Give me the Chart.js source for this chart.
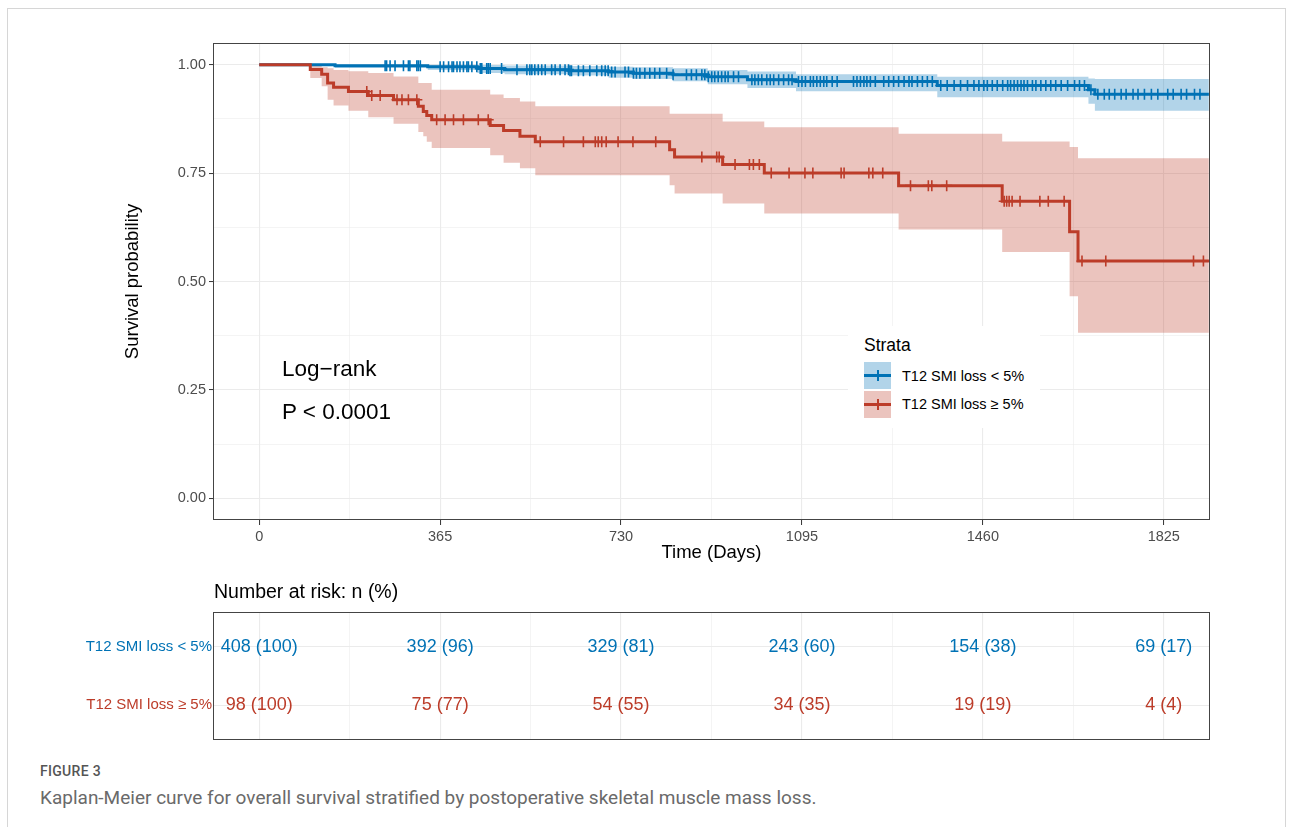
<!DOCTYPE html>
<html>
<head>
<meta charset="utf-8">
<script src="https://cdn.jsdelivr.net/npm/chart.js@4.4.1/dist/chart.umd.min.js"></script>
<style>
  html, body { margin: 0; padding: 0; background: #fff; }
  body { width: 1293px; height: 827px; position: relative; overflow: hidden; font-family: "Liberation Sans", Arial, sans-serif; }
  .frame { position: absolute; left: 7px; top: 8px; width: 1277px; height: 840px; border: 1px solid #d6d6d6; }
  canvas { position: absolute; left: 0; }
  #km { top: 0; }
  #risk { top: 600px; }
  .abs { position: absolute; white-space: nowrap; }
  .legend { position: absolute; left: 848px; top: 326px; width: 192px; height: 102px; background: #fff; }
  .key { position: absolute; left: 16px; width: 27px; height: 27px; }
  .key .ln { position: absolute; left: 0; right: 0; top: 12px; height: 3px; }
  .key .tk { position: absolute; left: 13px; top: 8px; width: 1.6px; height: 11px; }
  .cap { font-family: Roboto, "Noto Sans", sans-serif; }
</style>
</head>
<body>
<div class="frame"></div>
<canvas id="km" width="1293" height="568"></canvas>
<canvas id="risk" width="1293" height="151"></canvas>

<div class="abs" style="left:282px;top:356px;font-size:22.5px;line-height:26px;color:#000">Log−rank</div>
<div class="abs" style="left:282px;top:399px;font-size:22.5px;line-height:26px;color:#000">P &lt; 0.0001</div>

<div class="legend">
  <div class="abs" style="left:16px;top:9px;font-size:17.5px;line-height:20px">Strata</div>
  <div class="key" style="top:36px;background:rgba(0,114,181,0.3)"><div class="ln" style="background:#0072B5"></div><div class="tk" style="background:#0072B5"></div></div>
  <div class="key" style="top:65px;background:rgba(188,60,41,0.3)"><div class="ln" style="background:#BC3C29"></div><div class="tk" style="background:#BC3C29"></div></div>
  <div class="abs" id="lg0" style="left:54px;top:42px;font-size:14.5px;line-height:17px"></div>
  <div class="abs" id="lg1" style="left:54px;top:70px;font-size:14.5px;line-height:17px"></div>
</div>

<div class="abs" style="left:214px;top:580px;font-size:19.5px;line-height:22px;color:#000">Number at risk: n (%)</div>

<div class="abs cap" style="left:40px;top:763px;font-size:14px;line-height:16px;font-weight:500;color:#555;letter-spacing:0.3px">FIGURE 3</div>
<div class="abs cap" style="left:40px;top:787px;font-size:19px;line-height:22px;color:#6a6a6a">Kaplan-Meier curve for overall survival stratified by postoperative skeletal muscle mass loss.</div>

<script>
const groupNames = ["T12 SMI loss < 5%", "T12 SMI loss \u2265 5%"];
const groupColors = ["#0072B5", "#BC3C29"];
const bandColors = ["rgba(0,114,181,0.3)", "rgba(188,60,41,0.3)"];

const xMajor = [0, 365, 730, 1095, 1460, 1825];
const xGrid = [0, 182.5, 365, 547.5, 730, 912.5, 1095, 1277.5, 1460, 1642.5, 1825];
const yMajor = [0, 0.25, 0.5, 0.75, 1];
const yGrid = [0, 0.125, 0.25, 0.375, 0.5, 0.625, 0.75, 0.875, 1];
const endTime = 1916;

// T12 SMI loss < 5%
const lowTimes = [0, 153, 340, 440, 495, 625, 705, 755, 835, 905, 985, 1083, 1368, 1673, 1686];
const lowSurv  = [1, 0.9975, 0.9951, 0.991, 0.9885, 0.986, 0.983, 0.980, 0.977, 0.972, 0.9655, 0.961, 0.952, 0.942, 0.932];
const lowUpper = [1, 1, 1, 0.999, 0.998, 0.997, 0.995, 0.994, 0.992, 0.988, 0.984, 0.978, 0.972, 0.968, 0.967];
const lowLower = [1, 0.9926, 0.988, 0.981, 0.978, 0.975, 0.970, 0.967, 0.962, 0.955, 0.946, 0.939, 0.925, 0.910, 0.894];
const lowCensor = [254, 257, 264, 274, 291, 301, 304, 318, 321, 325, 365, 372, 382, 389, 392, 399, 405,
  412, 419, 422, 429, 439, 446, 449, 459, 462, 466, 489, 520, 540, 546, 550, 556, 563, 570, 577, 590,
  597, 607, 617, 624, 627, 630, 644, 654, 667, 681, 691, 698, 704, 711, 718, 738, 745, 755, 761, 768,
  778, 788, 798, 808, 822, 835, 862, 872, 882, 893, 899, 906, 913, 919, 926, 933, 940, 946, 957, 967,
  994, 1000, 1007, 1014, 1024, 1031, 1038, 1048, 1058, 1068, 1075, 1088, 1095, 1102, 1112, 1118, 1125,
  1132, 1139, 1145, 1156, 1166, 1199, 1206, 1213, 1220, 1226, 1233, 1243, 1260, 1270, 1280, 1290, 1301,
  1311, 1317, 1328, 1338, 1348, 1358, 1375, 1388, 1402, 1415, 1429, 1442, 1452, 1462, 1469, 1479, 1489,
  1500, 1510, 1516, 1523, 1530, 1537, 1543, 1550, 1560, 1567, 1577, 1587, 1597, 1607, 1618, 1631, 1645,
  1655, 1665, 1678, 1692, 1705, 1715, 1726, 1739, 1749, 1763, 1773, 1786, 1800, 1813, 1833, 1844, 1860,
  1871, 1887, 1898];

// T12 SMI loss >= 5%
const highTimes = [0, 103, 126, 138, 150, 180, 220, 271, 321, 331, 338, 348, 466, 493, 526, 557, 828, 838, 935, 1019, 1290, 1499, 1635, 1652];
const highSurv  = [1, 0.989, 0.978, 0.958, 0.948, 0.938, 0.929, 0.919, 0.904, 0.892, 0.883, 0.873, 0.860, 0.848, 0.835, 0.822, 0.804, 0.787, 0.770, 0.750, 0.721, 0.685, 0.6145, 0.547];
const highUpper = [1, 0.999, 0.994, 0.992, 0.988, 0.985, 0.981, 0.973, 0.958, 0.958, 0.958, 0.942, 0.931, 0.923, 0.915, 0.904, 0.887, 0.887, 0.869, 0.856, 0.841, 0.823, 0.810, 0.784];
const highLower = [1, 0.969, 0.950, 0.919, 0.906, 0.894, 0.879, 0.864, 0.845, 0.835, 0.822, 0.808, 0.791, 0.774, 0.761, 0.745, 0.722, 0.703, 0.680, 0.657, 0.620, 0.568, 0.466, 0.382];
const highCensor = [217, 227, 244, 278, 288, 301, 318, 358, 375, 392, 412, 442, 462, 567, 614, 654, 678,
  684, 691, 700, 724, 754, 800, 893, 923, 928, 960, 989, 997, 1009, 1033, 1069, 1101, 1117, 1174, 1180,
  1230, 1238, 1258, 1314, 1350, 1357, 1387, 1503, 1508, 1513, 1519, 1535, 1575, 1592, 1624, 1660, 1708,
  1885, 1905];

// number at risk
const riskTimes = [0, 365, 730, 1095, 1460, 1825];
const riskLowN = [408, 392, 329, 243, 154, 69];
const riskLowPct = [100, 96, 81, 60, 38, 17];
const riskHighN = [98, 75, 54, 34, 19, 4];
const riskHighPct = [100, 77, 55, 35, 19, 4];

document.getElementById("lg0").textContent = groupNames[0];
document.getElementById("lg1").textContent = groupNames[1];

const FONT = '"Liberation Sans", Arial, sans-serif';

function stepPoints(times, vals) {
  const pts = times.map((t, i) => ({ x: t, y: vals[i] }));
  pts.push({ x: endTime, y: vals[vals.length - 1] });
  return pts;
}

function survAt(times, surv, t) {
  let s = surv[0];
  for (let i = 0; i < times.length; i++) if (times[i] <= t) s = surv[i];
  return s;
}

function censorPoints(cens, times, surv) {
  return cens.map((t) => ({ x: t, y: survAt(times, surv, t) }));
}

function band(points, color, order, fill) {
  return {
    data: points, stepped: true, order,
    borderColor: "rgba(0,0,0,0)", borderWidth: 0, pointRadius: 0,
    backgroundColor: color, fill,
  };
}

function curve(points, color, order) {
  return {
    data: points, stepped: true, order,
    borderColor: color, borderWidth: 3, pointRadius: 0, fill: false,
  };
}

function censors(points, color, order) {
  return {
    data: points, showLine: false, order,
    pointStyle: "cross", pointRadius: 5.5, pointBorderWidth: 1.6,
    pointBorderColor: color, pointBackgroundColor: color,
  };
}

const panelBox = {
  id: "panelBox",
  afterDatasetsDraw(chart) {
    const { ctx, chartArea: a } = chart;
    ctx.save();
    ctx.strokeStyle = "#444";
    ctx.lineWidth = 1;
    ctx.strokeRect(Math.round(a.left) - 0.5, Math.round(a.top) + 0.5, Math.round(a.right - a.left) + 1, Math.round(a.bottom - a.top) - 1);
    ctx.restore();
  },
};

const gridColor = "#EBEBEB";
const isMajorX = (v) => xMajor.includes(v);
const isMajorY = (v) => yMajor.includes(v);

new Chart(document.getElementById("km"), {
  type: "line",
  data: {
    datasets: [
      band(stepPoints(lowTimes, lowUpper), bandColors[0], 10, false),
      band(stepPoints(lowTimes, lowLower), bandColors[0], 10, "-1"),
      band(stepPoints(highTimes, highUpper), bandColors[1], 9, false),
      band(stepPoints(highTimes, highLower), bandColors[1], 9, "-1"),
      curve(stepPoints(lowTimes, lowSurv), groupColors[0], 4),
      censors(censorPoints(lowCensor, lowTimes, lowSurv), groupColors[0], 3),
      curve(stepPoints(highTimes, highSurv), groupColors[1], 2),
      censors(censorPoints(highCensor, highTimes, highSurv), groupColors[1], 1),
    ],
  },
  options: {
    responsive: false,
    animation: false,
    events: [],
    layout: { padding: { left: 118, top: 43, right: 84, bottom: 0 } },
    plugins: { legend: { display: false }, tooltip: { enabled: false } },
    scales: {
      x: {
        type: "linear", min: -91.25, max: 1916.25,
        afterBuildTicks: (s) => { s.ticks = xGrid.map((v) => ({ value: v })); },
        afterFit: (s) => { s.height = 48; },
        ticks: {
          autoSkip: false, maxRotation: 0, padding: 3,
          color: "#4D4D4D", font: { family: FONT, size: 14.5 },
          callback: (v) => (isMajorX(v) ? String(v) : ""),
        },
        grid: {
          color: gridColor, tickLength: 5,
          lineWidth: (c) => (c.tick && isMajorX(c.tick.value) ? 1.1 : 0.55),
          tickColor: (c) => (c.tick && isMajorX(c.tick.value) ? "#333" : "rgba(0,0,0,0)"),
          tickWidth: 1,
        },
        border: { display: false },
        title: { display: true, text: "Time (Days)", color: "#000", font: { family: FONT, size: 18.5 }, padding: { top: 4, bottom: 4 } },
      },
      y: {
        type: "linear", min: -0.05, max: 1.05,
        afterBuildTicks: (s) => { s.ticks = yGrid.map((v) => ({ value: v })); },
        afterFit: (s) => { s.width = 96; },
        ticks: {
          autoSkip: false, padding: 3,
          color: "#4D4D4D", font: { family: FONT, size: 14.5 },
          callback: (v) => (isMajorY(v) ? v.toFixed(2) : ""),
        },
        grid: {
          color: gridColor, tickLength: 5,
          lineWidth: (c) => (c.tick && isMajorY(c.tick.value) ? 1.1 : 0.55),
          tickColor: (c) => (c.tick && isMajorY(c.tick.value) ? "#333" : "rgba(0,0,0,0)"),
          tickWidth: 1,
        },
        border: { display: false },
        title: { display: true, text: "Survival probability", color: "#000", font: { family: FONT, size: 18.5 }, padding: { top: 4, bottom: 4 } },
      },
    },
  },
  plugins: [panelBox],
});

const riskRows = [
  { row: 1, n: riskLowN, pct: riskLowPct, color: groupColors[0] },
  { row: 2, n: riskHighN, pct: riskHighPct, color: groupColors[1] },
];

const riskText = {
  id: "riskText",
  afterDatasetsDraw(chart) {
    const { ctx, scales: { x, y } } = chart;
    ctx.save();
    ctx.font = "18px " + FONT;
    ctx.textAlign = "center";
    ctx.textBaseline = "middle";
    riskRows.forEach((r) => {
      ctx.fillStyle = r.color;
      riskTimes.forEach((t, i) => {
        ctx.fillText(`${r.n[i]} (${r.pct[i]})`, x.getPixelForValue(t), y.getPixelForValue(r.row));
      });
    });
    ctx.restore();
  },
};

new Chart(document.getElementById("risk"), {
  type: "line",
  data: { datasets: [] },
  options: {
    responsive: false,
    animation: false,
    events: [],
    layout: { padding: { left: 0, top: 12, right: 84, bottom: 0 } },
    plugins: { legend: { display: false }, tooltip: { enabled: false } },
    scales: {
      x: {
        type: "linear", min: -91.25, max: 1916.25,
        afterBuildTicks: (s) => { s.ticks = xGrid.map((v) => ({ value: v })); },
        afterFit: (s) => { s.height = 6; },
        ticks: { display: false },
        grid: {
          color: gridColor, drawTicks: false,
          lineWidth: (c) => (c.tick && isMajorX(c.tick.value) ? 1.1 : 0.55),
        },
        border: { display: false },
      },
      y: {
        type: "linear", min: 0.4, max: 2.6, reverse: true,
        afterBuildTicks: (s) => { s.ticks = riskRows.map((r) => ({ value: r.row })); },
        afterFit: (s) => { s.width = 214; },
        ticks: {
          autoSkip: false, padding: 2,
          font: { family: FONT, size: 15 },
          color: (c) => groupColors[c.index],
          callback: (v) => groupNames[v - 1],
        },
        grid: { color: gridColor, drawTicks: false, lineWidth: 1.1 },
        border: { display: false },
      },
    },
  },
  plugins: [riskText, panelBox],
});
</script>
</body>
</html>
